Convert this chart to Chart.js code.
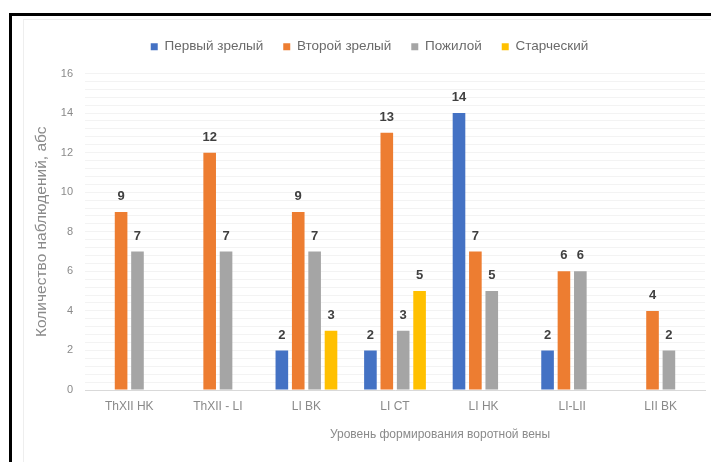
<!DOCTYPE html>
<html>
<head>
<meta charset="utf-8">
<script src="https://cdn.jsdelivr.net/npm/chart.js@4/dist/chart.umd.min.js"></script>
<style>
  html, body { margin: 0; padding: 0; background: #fff; }
  #wrap { position: relative; width: 711px; height: 462px; }
  #frame { position: absolute; left: 9px; top: 13px; right: 0; bottom: 0;
           border-top: 3px solid #000; border-left: 3px solid #000; pointer-events: none; }
  #inner { position: absolute; left: 23px; top: 19px; right: 0; bottom: 0;
           border-top: 1px solid #eeeeee; border-left: 1px solid #eeeeee; pointer-events: none; }
</style>
</head>
<body>
<div id="wrap">
  <canvas id="grafico" width="711" height="462"></canvas>
  <div id="inner"></div>
  <div id="frame"></div>
</div>
<script>
const categorias = ["ThXII HK", "ThXII - LI", "LI BK", "LI CT", "LI HK", "LI-LII", "LII BK"];
const perviyZrelyi = [null, null, 2, 2, 14, 2, null];
const vtoroyZrelyi = [9, 12, 9, 13, 7, 6, 4];
const pozhiloy     = [7, 7, 7, 3, 5, 6, 2];
const starcheskiy  = [null, null, 3, 5, null, null, null];
const ticksY = [0, 2, 4, 6, 8, 10, 12, 14, 16];

const fuente = "'Liberation Sans', Arial, sans-serif";

// espacio extra debajo de la leyenda
const leyendaAlta = {
  id: "leyendaAlta",
  beforeInit(chart) {
    const fitOriginal = chart.legend.fit;
    chart.legend.fit = function () {
      fitOriginal.bind(chart.legend)();
      this.height += 10;
    };
  }
};

// etiquetas de valores encima de cada barra
const etiquetas = {
  id: "etiquetas",
  afterDatasetsDraw(chart) {
    const ctx = chart.ctx;
    ctx.save();
    ctx.font = "bold 13px " + fuente;
    ctx.fillStyle = "#404040";
    ctx.textAlign = "center";
    ctx.textBaseline = "bottom";
    chart.data.datasets.forEach((ds, i) => {
      chart.getDatasetMeta(i).data.forEach((bar, j) => {
        if (ds.data[j] == null) return;
        ctx.fillText(ds.data[j], bar.x, bar.y - 9);
      });
    });
    ctx.restore();
  }
};

// titulo del eje X desplazado a la derecha como en Excel
const tituloX = {
  id: "tituloX",
  afterDraw(chart) {
    const ctx = chart.ctx;
    ctx.save();
    ctx.font = "12px " + fuente;
    ctx.fillStyle = "#8a8a8a";
    ctx.textAlign = "center";
    ctx.textBaseline = "middle";
    ctx.fillText("Уровень формирования воротной вены", 440, 435);
    ctx.restore();
  }
};

new Chart(document.getElementById("grafico"), {
  type: "bar",
  data: {
    labels: categorias,
    datasets: [
      { label: "Первый зрелый", data: perviyZrelyi, backgroundColor: "#4472C4" },
      { label: "Второй зрелый", data: vtoroyZrelyi, backgroundColor: "#ED7D31" },
      { label: "Пожилой", data: pozhiloy, backgroundColor: "#A5A5A5" },
      { label: "Старческий", data: starcheskiy, backgroundColor: "#FFC000" }
    ]
  },
  options: {
    responsive: false,
    animation: false,
    devicePixelRatio: 1,
    layout: { padding: { left: 34, right: 6, top: 20, bottom: 8 } },
    datasets: { bar: { categoryPercentage: 0.74, barPercentage: 0.77 } },
    plugins: {
      tooltip: { enabled: false },
      legend: {
        position: "top",
        labels: {
          boxWidth: 7, boxHeight: 7, padding: 20,
          color: "#6a6a6a",
          font: { family: fuente, size: 13.5 }
        }
      }
    },
    scales: {
      x: {
        grid: { display: false, drawTicks: false },
        border: { display: true, color: "#d9d9d9" },
        ticks: { color: "#8a8a8a", padding: 9, maxRotation: 0, font: { family: fuente, size: 12 } },
        afterFit: s => { s.height = 64; }
      },
      y: {
        min: 0, max: 16,
        afterBuildTicks: s => { s.ticks = ticksY.map(v => ({ value: v })); },
        grid: { color: "#dcdcdc", drawTicks: false },
        border: { display: false },
        ticks: { color: "#8a8a8a", padding: 12, font: { family: fuente, size: 11 } },
        title: {
          display: true, text: "Количество наблюдений, абс",
          color: "#8a8a8a", font: { family: fuente, size: 15.5 },
          padding: { top: -2, bottom: 0 }
        },
        afterFit: s => { s.width = 51; }
      },
      yMenor: {
        position: "left",
        min: 0, max: 16,
        ticks: { display: false, stepSize: 0.4 },
        grid: { color: "#f3f3f3", drawTicks: false },
        border: { display: false },
        afterFit: s => { s.width = 0; }
      }
    }
  },
  plugins: [leyendaAlta, etiquetas, tituloX]
});
</script>
</body>
</html>
